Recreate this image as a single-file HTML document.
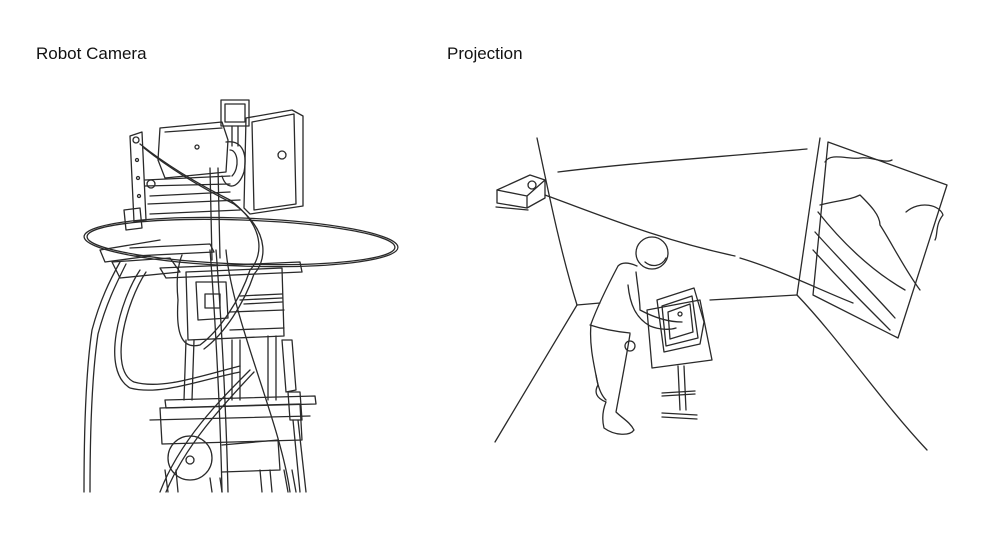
<!DOCTYPE html>
<html><head><meta charset="utf-8"><style>
html,body{margin:0;padding:0;background:#fff;width:989px;height:538px;overflow:hidden}
.t{position:absolute;top:44px;font-family:"Liberation Sans",sans-serif;font-size:17px;color:#111}
svg{position:absolute;left:0;top:0}
</style></head><body>
<div class="t" style="left:36px">Robot Camera</div>
<div class="t" style="left:447px">Projection</div>
<svg width="989" height="538" viewBox="0 0 989 538" fill="none" stroke="#2a2a2a" stroke-width="1.3" stroke-linejoin="round" stroke-linecap="round">
<!-- ROBOT -->
<g>
<ellipse cx="241" cy="242" rx="157" ry="24" transform="rotate(2 241 242)"/>
<ellipse cx="241" cy="242" rx="154" ry="22" transform="rotate(2 241 242)"/>
<rect x="221" y="100" width="28" height="26"/>
<rect x="225" y="104" width="20" height="18"/>
<path d="M232 126 v20 M238 126 v20"/>
<path d="M246 118 L292 110 L303 116 L303 206 L250 214 L244 208 Z"/>
<path d="M252 122 L294 114 L296 204 L254 210 Z"/>
<circle cx="282" cy="155" r="4"/>
<path d="M160 128 L222 122 L228 140 L226 172 L165 178 L158 160 Z"/>
<path d="M165 132 L222 128"/>
<circle cx="197" cy="147" r="2"/>
<path d="M226 142 C240 140 248 150 244 172 C238 190 226 190 222 176"/>
<path d="M230 150 C238 150 240 168 232 176"/>
<path d="M130 136 L142 132 L146 220 L134 222 Z"/>
<circle cx="136" cy="140" r="3"/><circle cx="137" cy="160" r="1.5"/><circle cx="138" cy="178" r="1.5"/><circle cx="139" cy="196" r="1.5"/>
<path d="M124 210 L140 208 L142 228 L126 230 Z"/>
<path d="M145 180 L230 176 M145 186 L230 184 M150 196 L230 192 M148 204 L240 200 M150 214 L240 210"/>
<circle cx="151" cy="184" r="4"/>
<path d="M210 168 L212 260 M218 168 L220 258"/>
<path d="M112 262 L170 258 L180 272 L120 278 Z"/>
<path d="M130 248 L210 244 L214 252 L134 256"/>
<path d="M160 268 L300 262 L302 272 L166 278 Z"/>
<path d="M186 272 L282 268 L284 336 L188 340 Z"/>
<path d="M196 282 L226 282 L228 318 L198 320 Z"/>
<path d="M205 294 L220 294 L220 308 L205 308 Z"/>
<path d="M240 296 L282 294 M240 300 L282 298 M244 304 L282 302"/>
<path d="M230 312 L284 310 M230 330 L284 328"/>
<path d="M186 340 L184 400 M194 340 L192 400 M232 340 L232 400 M240 340 L240 400 M268 336 L268 400 M276 336 L276 400"/>
<path d="M165 400 L315 396 L316 404 L166 408 Z"/>
<path d="M160 408 L300 404 L302 440 L162 444 Z"/>
<path d="M150 420 L310 416"/>
<circle cx="190" cy="458" r="22"/><circle cx="190" cy="460" r="4"/>
<path d="M222 445 L278 440 L280 470 L222 472"/>
<path d="M165 470 L168 492 M176 470 L178 492 M260 470 L262 492 M270 470 L272 492 M284 470 L288 492 M292 470 L296 492 M210 478 L212 492 M220 478 L222 492"/>
<path d="M282 340 L292 340 L296 390 L286 392 Z"/>
<path d="M288 392 L300 392 L302 420 L290 420 Z"/>
<path d="M293 420 L300 492 M298 420 L306 492"/>
<path d="M140 144 C160 160 190 180 230 200 C270 230 260 260 250 270 C240 300 220 330 200 345 C180 350 176 330 178 300 C176 280 178 265 182 255"/>
<path d="M144 148 C164 164 194 184 234 204 C274 234 264 264 254 274 C244 304 224 334 204 349"/>
<path d="M210 250 C214 300 220 400 222 492 M216 250 C220 300 226 400 228 492"/>
<path d="M226 250 C232 320 280 420 290 492"/>
<path d="M120 262 C110 280 100 300 92 330 C86 370 84 430 84 492 M126 264 C116 284 106 304 98 334 C92 374 90 432 90 492"/>
<path d="M140 270 C120 300 100 370 130 388 C160 396 200 380 240 372 M146 272 C126 302 108 370 134 382 C162 390 200 376 240 366"/>
<path d="M250 370 C220 400 180 440 160 492 M254 372 C224 404 186 444 166 492"/>
<path d="M160 240 L100 250 L105 262 L150 256"/>
</g>
<!-- PROJECTION -->
<g>
<path d="M537 138 C548 190 560 250 577 305"/>
<path d="M577 305 C550 350 520 400 495 442"/>
<path d="M577 305 L600 303 M710 300 L797 295"/>
<path d="M820 138 C812 190 805 240 797 295"/>
<path d="M797 295 C840 340 880 400 927 450"/>
<path d="M558 172 C640 162 720 157 807 149"/>
<path d="M545 195 C600 215 660 240 735 256 M740 258 C780 270 820 290 853 303"/>
<path d="M828 142 L947 185 L898 338 L813 295 Z"/>
<path d="M825 162 C830 152 850 160 860 158 C870 156 885 164 892 160"/>
<path d="M820 205 C840 200 850 200 860 195 C870 205 880 215 880 225 C890 240 905 270 920 290"/>
<path d="M818 212 C840 240 870 270 905 290 M815 232 C840 260 870 290 895 318 M813 250 C840 280 860 300 890 330"/>
<path d="M906 212 C920 200 940 205 943 215 C935 225 938 235 935 240"/>
<path d="M497 190 L530 175 L545 180 L545 198 L527 208 L497 203 Z"/>
<path d="M497 190 L527 196 L545 180 M527 196 L527 208"/>
<circle cx="532" cy="185" r="4"/>
<path d="M496 207 L528 210"/>
<!-- person -->
<circle cx="652" cy="253" r="16"/>
<path d="M645 262 C652 268 662 266 666 258"/>
<path d="M637 266 C628 262 622 262 618 266 C608 285 598 305 591 324 C589 345 594 365 598 385 C594 392 596 398 606 402 C602 412 602 420 604 428 C615 436 630 436 634 430 C630 422 622 418 616 412 C620 390 626 360 630 334"/>
<path d="M590 325 C605 330 620 332 630 333"/>
<path d="M636 272 C638 290 640 300 640 310 C655 318 670 322 682 322"/>
<path d="M628 285 C630 305 636 318 650 326 C660 330 670 330 676 328"/>
<circle cx="630" cy="346" r="5"/>
<path d="M596 375 C598 388 602 396 606 400"/>
<!-- easel -->
<path d="M647 310 L700 300 L712 360 L652 368 Z"/>
<path d="M657 300 L694 288 L704 322 L700 344 L664 352 Z"/>
<path d="M662 306 L692 296 L698 338 L666 346 Z"/>
<path d="M668 312 L690 304 L693 332 L670 339 Z"/>
<circle cx="680" cy="314" r="2"/>
<path d="M678 366 L680 410 M684 366 L686 410"/>
<path d="M662 393 L695 391 M662 396 L695 394 M662 413 L697 415 M662 417 L697 419"/>
</g>
</svg>
</body></html>
